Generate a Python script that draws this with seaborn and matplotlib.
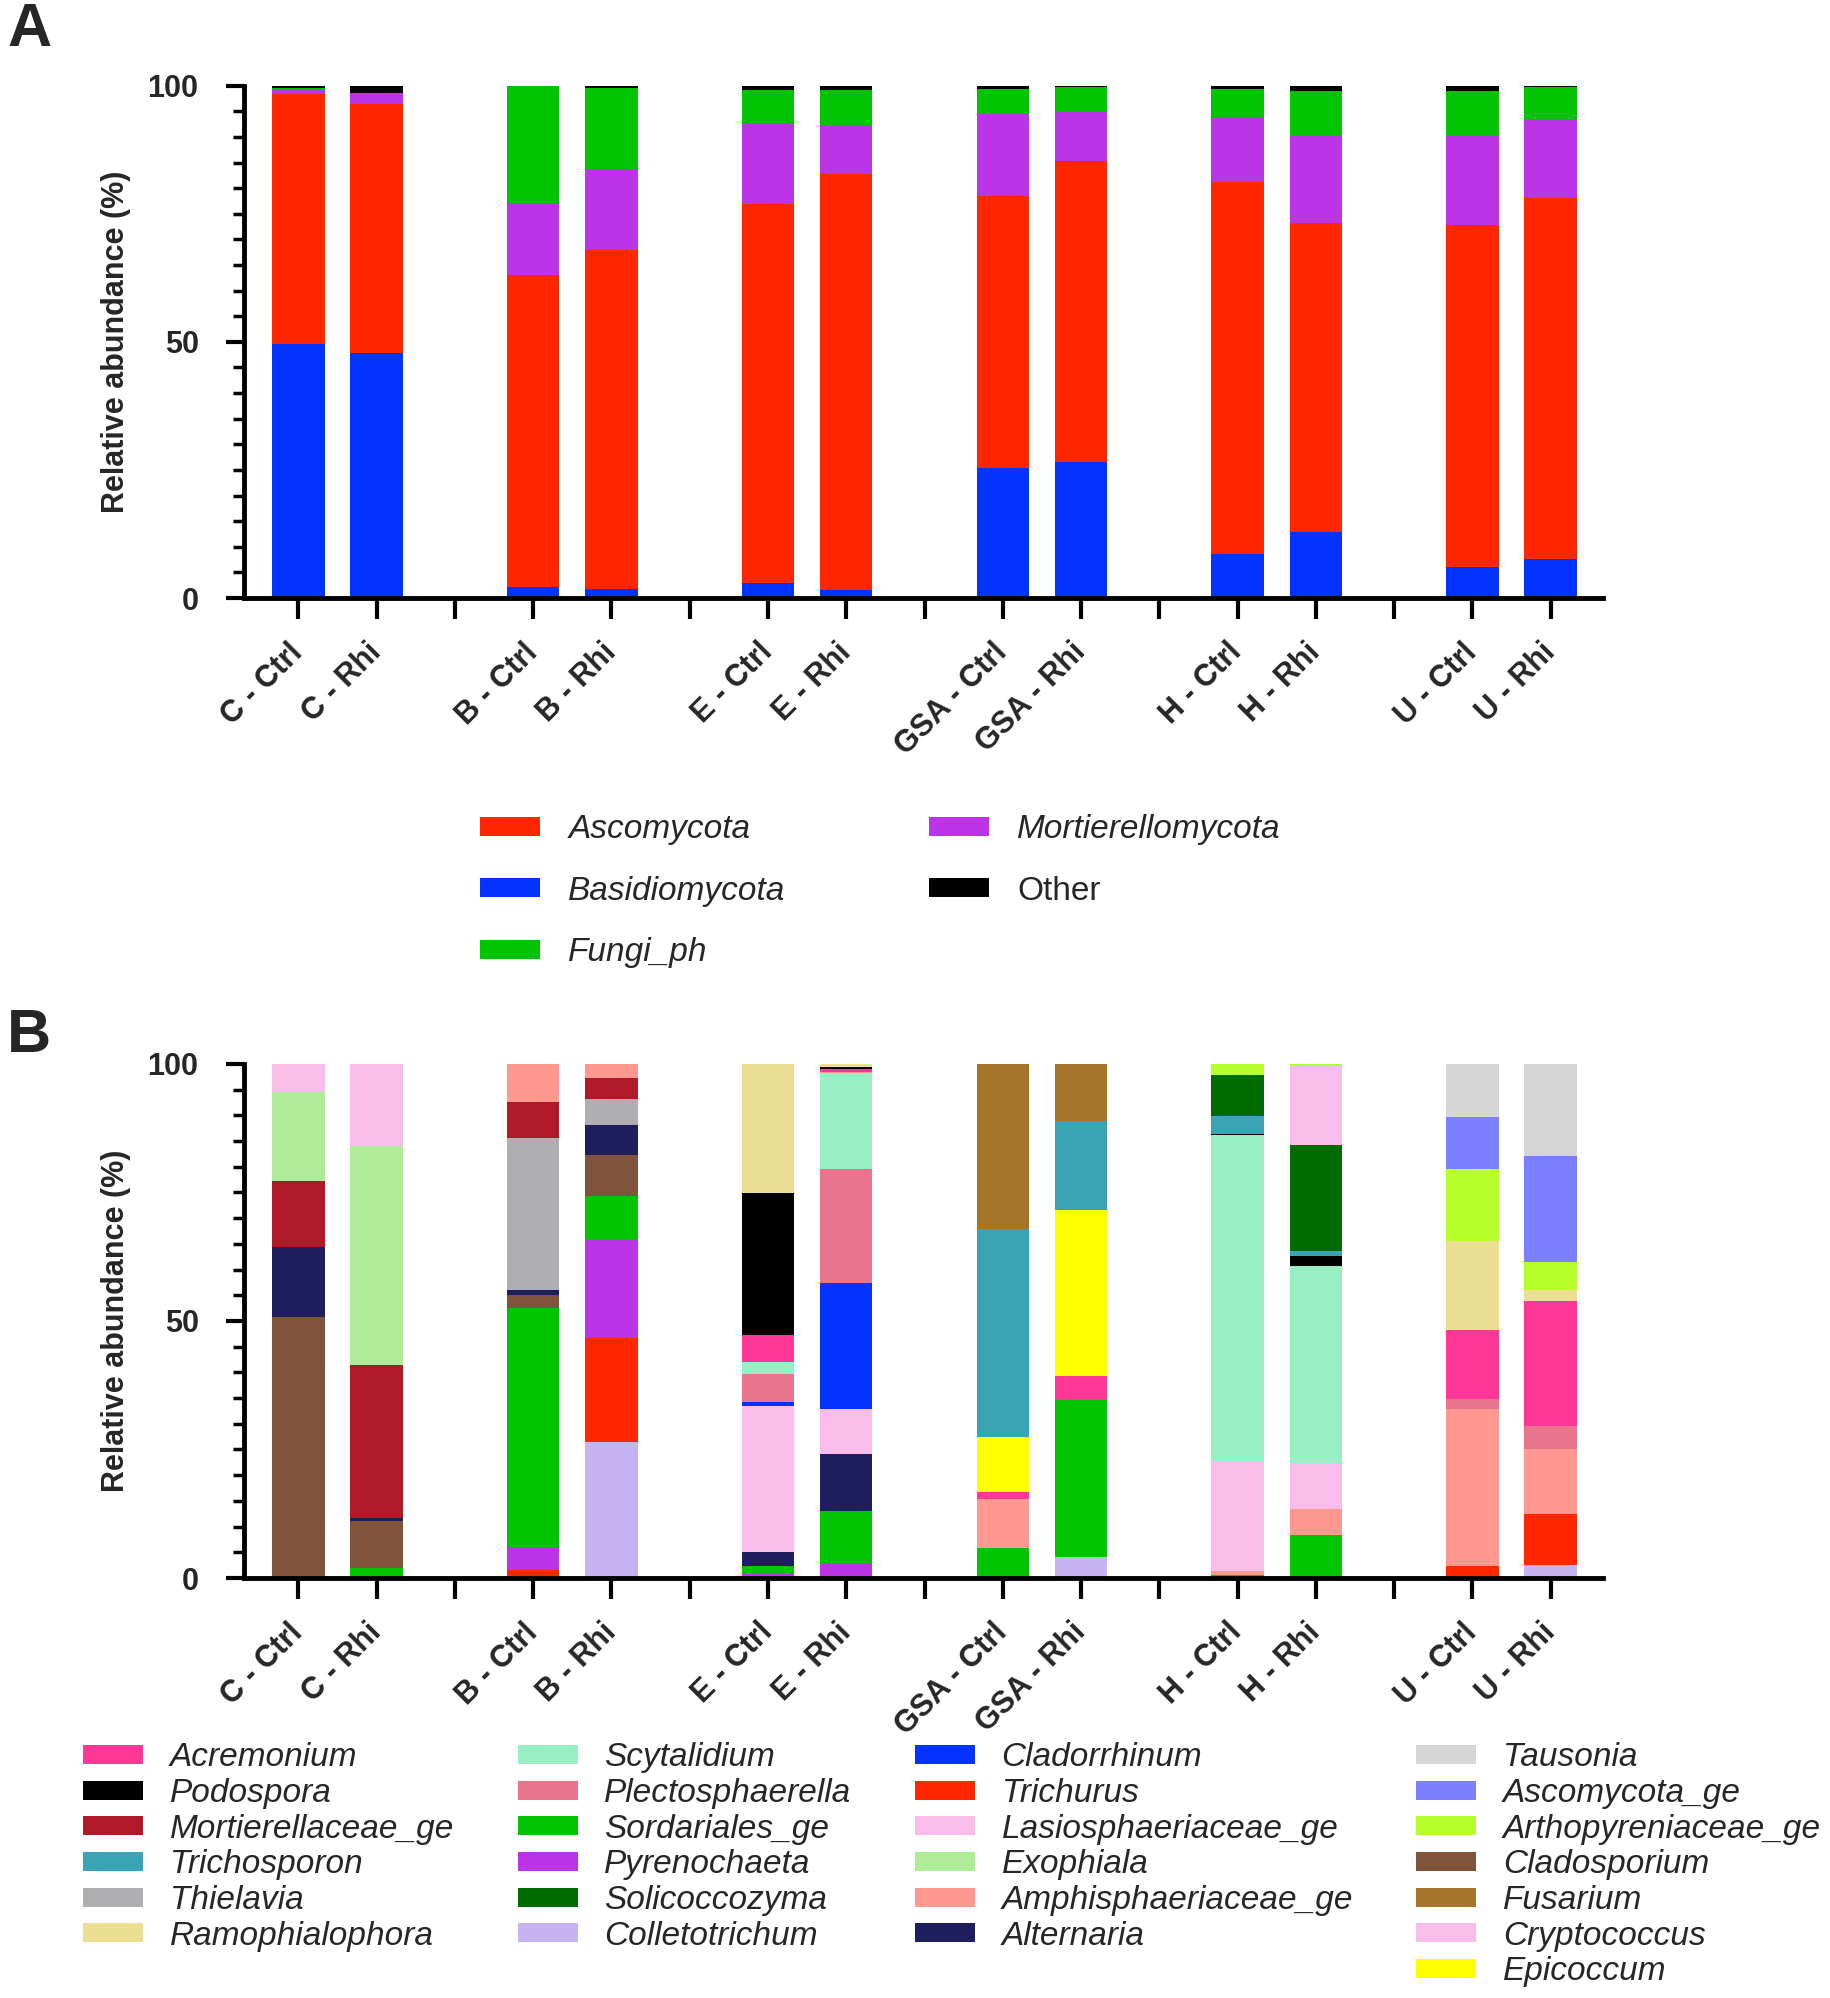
import numpy as np
import pandas as pd
import matplotlib
matplotlib.use("Agg")
import matplotlib.pyplot as plt
from matplotlib.patches import Patch
from matplotlib.ticker import MultipleLocator
import seaborn as sns

# ==========================================
# DATA (relative abundance, %)
# ==========================================
samples = ["C - Ctrl", "C - Rhi", "B - Ctrl", "B - Rhi", "E - Ctrl", "E - Rhi",
           "GSA - Ctrl", "GSA - Rhi", "H - Ctrl", "H - Rhi", "U - Ctrl", "U - Rhi"]

# Panel A, phylum level, stacked bottom -> top
phyla = ["Basidiomycota", "Ascomycota", "Mortierellomycota", "Fungi_ph", "Other"]
basidiomycota = [49.5, 47.8, 2.1, 1.7, 3.0, 1.6, 25.4, 26.6, 8.6, 12.8, 6.1, 7.7]
ascomycota = [48.9, 48.6, 60.9, 66.2, 74.0, 81.2, 53.0, 58.7, 72.6, 60.4, 66.7, 70.3]
mortierellomycota = [0.7, 2.2, 14.1, 15.9, 15.7, 9.3, 16.1, 9.6, 12.5, 17.0, 17.4, 15.6]
fungi_ph = [0.5, 0.0, 22.9, 15.7, 6.4, 7.0, 4.9, 4.9, 5.6, 8.8, 8.8, 6.2]
other = [0.4, 1.4, 0.0, 0.5, 0.9, 0.9, 0.6, 0.2, 0.7, 1.0, 1.0, 0.2]

# Panel B, genus level, one list per sample, stacked bottom -> top
c_ctrl = [("Cladosporium", 50.7), ("Alternaria", 13.6), ("Mortierellaceae_ge", 13.0),
          ("Exophiala", 17.3), ("Cryptococcus", 5.4)]
c_rhi = [("Sordariales_ge", 2.0), ("Cladosporium", 9.1), ("Alternaria", 0.6),
         ("Mortierellaceae_ge", 29.8), ("Exophiala", 42.5), ("Cryptococcus", 16.0)]
b_ctrl = [("Trichurus", 1.6), ("Pyrenochaeta", 4.5), ("Sordariales_ge", 46.5),
          ("Cladosporium", 2.5), ("Alternaria", 1.0), ("Thielavia", 29.5),
          ("Mortierellaceae_ge", 6.9), ("Amphisphaeriaceae_ge", 7.5)]
b_rhi = [("Colletotrichum", 26.4), ("Trichurus", 20.2), ("Pyrenochaeta", 19.2),
         ("Sordariales_ge", 8.6), ("Cladosporium", 7.8), ("Alternaria", 5.9),
         ("Thielavia", 5.1), ("Mortierellaceae_ge", 4.0), ("Amphisphaeriaceae_ge", 2.8)]
e_ctrl = [("Pyrenochaeta", 0.7), ("Sordariales_ge", 1.7), ("Alternaria", 2.6),
          ("Lasiosphaeriaceae_ge", 28.4), ("Cladorrhinum", 0.8), ("Plectosphaerella", 5.5),
          ("Scytalidium", 2.3), ("Acremonium", 5.2), ("Podospora", 27.7),
          ("Ramophialophora", 25.1)]
e_rhi = [("Pyrenochaeta", 2.9), ("Sordariales_ge", 10.1), ("Alternaria", 11.2),
         ("Lasiosphaeriaceae_ge", 8.6), ("Cladorrhinum", 24.5), ("Plectosphaerella", 22.3),
         ("Scytalidium", 18.6), ("Amphisphaeriaceae_ge", 0.3), ("Acremonium", 0.5),
         ("Podospora", 0.5), ("Ramophialophora", 0.5)]
gsa_ctrl = [("Sordariales_ge", 5.9), ("Amphisphaeriaceae_ge", 9.4), ("Acremonium", 1.4),
            ("Epicoccum", 10.8), ("Trichosporon", 40.4), ("Fusarium", 32.1)]
gsa_rhi = [("Colletotrichum", 4.1), ("Sordariales_ge", 30.5), ("Acremonium", 4.6),
           ("Epicoccum", 32.3), ("Trichosporon", 17.4), ("Fusarium", 11.1)]
h_ctrl = [("Sordariales_ge", 0.5), ("Amphisphaeriaceae_ge", 0.9), ("Lasiosphaeriaceae_ge", 21.4),
          ("Scytalidium", 63.3), ("Podospora", 0.2), ("Trichosporon", 3.6),
          ("Solicoccozyma", 7.9), ("Arthopyreniaceae_ge", 2.2)]
h_rhi = [("Sordariales_ge", 8.3), ("Amphisphaeriaceae_ge", 5.2), ("Lasiosphaeriaceae_ge", 8.9),
         ("Scytalidium", 38.2), ("Podospora", 2.0), ("Trichosporon", 1.0),
         ("Solicoccozyma", 20.7), ("Cryptococcus", 15.3), ("Arthopyreniaceae_ge", 0.4)]
u_ctrl = [("Trichurus", 2.4), ("Amphisphaeriaceae_ge", 30.4), ("Plectosphaerella", 2.0),
          ("Acremonium", 13.4), ("Ramophialophora", 17.3), ("Arthopyreniaceae_ge", 14.1),
          ("Ascomycota_ge", 10.1), ("Tausonia", 10.3)]
u_rhi = [("Colletotrichum", 2.6), ("Trichurus", 9.9), ("Amphisphaeriaceae_ge", 12.5),
         ("Plectosphaerella", 4.6), ("Acremonium", 24.2), ("Ramophialophora", 2.2),
         ("Arthopyreniaceae_ge", 5.5), ("Ascomycota_ge", 20.5), ("Tausonia", 18.0)]

genus_bars = [c_ctrl, c_rhi, b_ctrl, b_rhi, e_ctrl, e_rhi,
              gsa_ctrl, gsa_rhi, h_ctrl, h_rhi, u_ctrl, u_rhi]

# ==========================================
# COLOURS
# ==========================================
phylum_colors = {"Ascomycota": "#FF2600", "Basidiomycota": "#0433FF",
                 "Fungi_ph": "#00C400", "Mortierellomycota": "#BB34E6",
                 "Other": "#000000"}

genus_colors = {
    "Acremonium": "#FF3796", "Podospora": "#000000", "Mortierellaceae_ge": "#B01A28",
    "Trichosporon": "#3AA3B4", "Thielavia": "#AFAFB1", "Ramophialophora": "#ECDF94",
    "Scytalidium": "#98EFC4", "Plectosphaerella": "#E8758D", "Sordariales_ge": "#00C400",
    "Pyrenochaeta": "#BB34E6", "Solicoccozyma": "#006B00", "Colletotrichum": "#C7B3F2",
    "Cladorrhinum": "#0433FF", "Trichurus": "#FF2600", "Lasiosphaeriaceae_ge": "#F9BCEB",
    "Exophiala": "#B0EB97", "Amphisphaeriaceae_ge": "#FF9891", "Alternaria": "#1E1E5E",
    "Tausonia": "#D6D6D6", "Ascomycota_ge": "#7A80FF", "Arthopyreniaceae_ge": "#B6FF2B",
    "Cladosporium": "#7F543A", "Fusarium": "#A5762A", "Cryptococcus": "#F9BDEC",
    "Epicoccum": "#FFFF00",
}

legend_a_order = ["Ascomycota", "Basidiomycota", "Fungi_ph", "Mortierellomycota", "Other"]
legend_b_cols = [
    ["Acremonium", "Podospora", "Mortierellaceae_ge", "Trichosporon", "Thielavia", "Ramophialophora"],
    ["Scytalidium", "Plectosphaerella", "Sordariales_ge", "Pyrenochaeta", "Solicoccozyma", "Colletotrichum"],
    ["Cladorrhinum", "Trichurus", "Lasiosphaeriaceae_ge", "Exophiala", "Amphisphaeriaceae_ge", "Alternaria"],
    ["Tausonia", "Ascomycota_ge", "Arthopyreniaceae_ge", "Cladosporium", "Fusarium", "Cryptococcus", "Epicoccum"],
]

# ==========================================
# LONG TABLES
# ==========================================
# two bars per soil, one empty slot between soils
slots = [3 * (i // 2) + i % 2 for i in range(len(samples))]

rows = []
phylum_vals = [basidiomycota, ascomycota, mortierellomycota, fungi_ph, other]
for i, s in enumerate(samples):
    base = 0.0
    for name, vals in zip(phyla, phylum_vals):
        rows.append(dict(sample=s, slot=slots[i], taxon=name, value=vals[i], bottom=base))
        base += vals[i]
df_a = pd.DataFrame(rows)

rows = []
for i, s in enumerate(samples):
    base = 0.0
    for name, v in genus_bars[i]:
        rows.append(dict(sample=s, slot=slots[i], taxon=name, value=v, bottom=base))
        base += v
df_b = pd.DataFrame(rows)

# ==========================================
# PLOT
# ==========================================
sns.set_theme(style="ticks")
plt.rcParams['font.family'] = ['Liberation Sans', 'DejaVu Sans']

fig = plt.figure(figsize=(18.31, 19.98), dpi=100)
ax_a = fig.add_axes([0.1335, 0.7007, 0.742, 0.2564])
ax_b = fig.add_axes([0.1335, 0.2102, 0.742, 0.2573])

BAR_W = 0.67


def draw_stack(ax, df, colors):
    all_slots = pd.DataFrame({"slot": slots})
    for taxon in df["taxon"].unique():
        sub = df[df["taxon"] == taxon][["slot", "value", "bottom"]]
        sub = all_slots.merge(sub, on="slot", how="left").fillna(0.0).sort_values("slot")
        sns.barplot(data=sub, x="slot", y="value", native_scale=True, width=BAR_W,
                    color=colors[taxon], saturation=1, errorbar=None,
                    bottom=sub["bottom"].to_numpy(), linewidth=0, ax=ax)


def style_axis(ax):
    ax.set_xlim(-0.69, 16.67)
    ax.set_ylim(0, 100)
    sns.despine(ax=ax)
    for side in ["left", "bottom"]:
        ax.spines[side].set_linewidth(3.5)
        ax.spines[side].set_color("black")
    ax.set_xticks(range(17))
    labels = [""] * 17
    for s, sl in zip(samples, slots):
        labels[sl] = s
    ax.set_xticklabels(labels, rotation=45, ha="right", va="center",
                       rotation_mode="anchor", fontsize=22, fontweight="bold")
    ax.set_yticks([0, 50, 100])
    ax.set_yticklabels(["0", "50", "100"], fontsize=22, fontweight="bold")
    ax.yaxis.set_minor_locator(MultipleLocator(5))
    ax.tick_params(axis="x", which="major", length=15, width=3, pad=21, color="black")
    ax.tick_params(axis="y", which="major", length=13, width=3, pad=20, color="black")
    ax.tick_params(axis="y", which="minor", length=8, width=2.5, color="black")
    ax.set_xlabel("")
    ax.set_ylabel("Relative abundance (%)", fontsize=22, fontweight="bold", labelpad=12)


draw_stack(ax_a, df_a, phylum_colors)
style_axis(ax_a)
draw_stack(ax_b, df_b, genus_colors)
style_axis(ax_b)

# panel letters
fig.text(0.004, 0.999, "A", fontsize=44, fontweight="bold", va="top", ha="left")
fig.text(0.004, 0.4955, "B", fontsize=44, fontweight="bold", va="top", ha="left")

# legend A
handles_a = [Patch(facecolor=phylum_colors[n], edgecolor="none") for n in legend_a_order]
leg_a = fig.legend(handles_a, legend_a_order, loc="upper left", bbox_to_anchor=(0.2622, 0.5926),
                   ncol=2, frameon=False, borderpad=0, borderaxespad=0,
                   handlelength=1.8, handleheight=0.5, handletextpad=0.85,
                   labelspacing=0.92, columnspacing=4.3,
                   prop={"style": "italic", "size": 24})
for t in leg_a.get_texts():
    if t.get_text() == "Other":
        t.set_fontstyle("normal")

# legend B (blank slots keep 6/6/6/7 rows per column)
handles_b, labels_b = [], []
for col in legend_b_cols:
    for n in col:
        handles_b.append(Patch(facecolor=genus_colors[n], edgecolor="none"))
        labels_b.append(n)
    for _ in range(7 - len(col)):
        handles_b.append(Patch(facecolor="none", edgecolor="none"))
        labels_b.append("")
fig.legend(handles_b, labels_b, loc="upper left", bbox_to_anchor=(0.0455, 0.128),
           ncol=4, frameon=False, borderpad=0, borderaxespad=0,
           handlelength=1.8, handleheight=0.5, handletextpad=0.8,
           labelspacing=0.14, columnspacing=1.9,
           prop={"style": "italic", "size": 24})

fig.savefig("out.png", dpi=100)
